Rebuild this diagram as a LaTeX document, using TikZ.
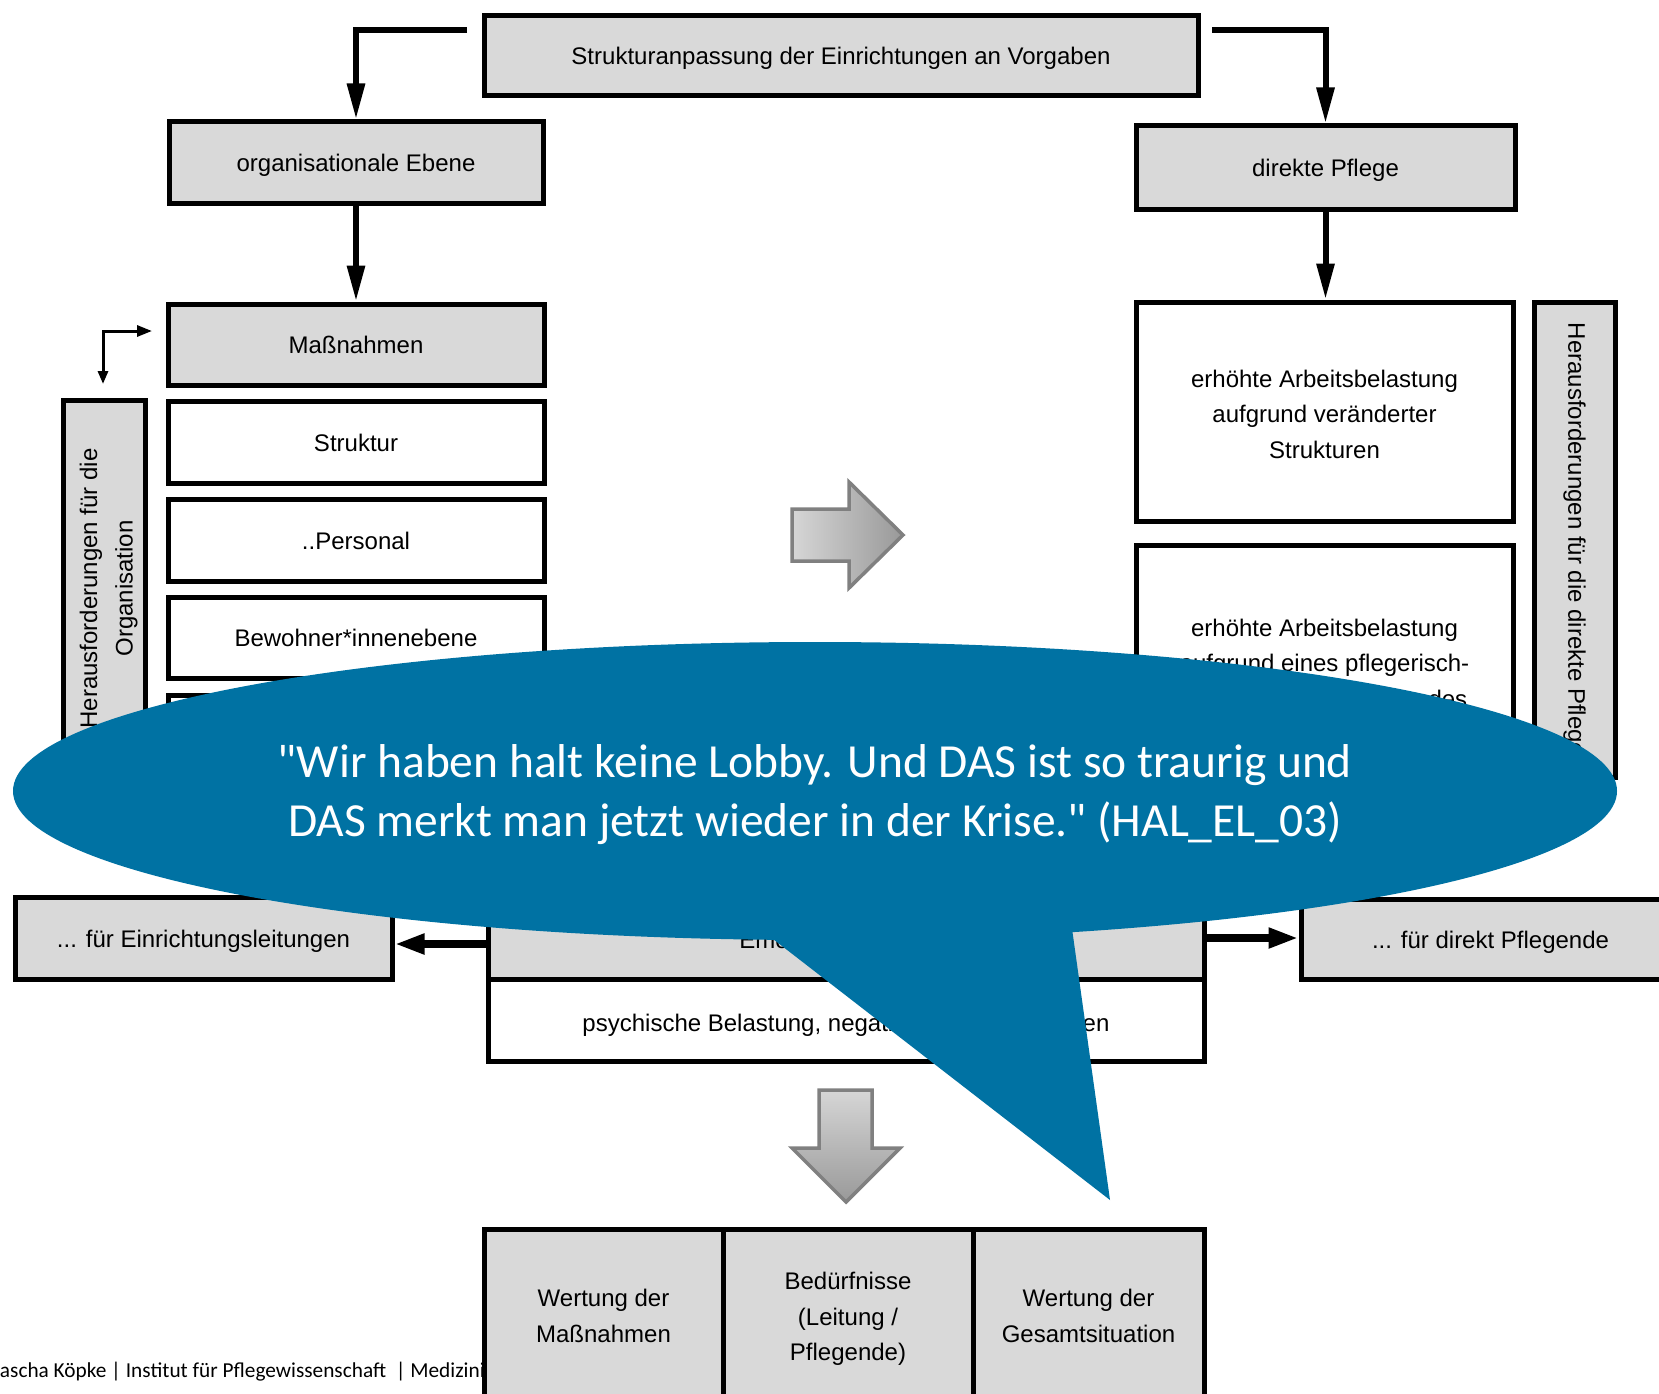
\documentclass[tikz,border=0pt]{standalone}
\usepackage{fontspec}
\setmainfont{Liberation Sans}
\newfontfamily\quotefont{Carlito}
\usetikzlibrary{arrows.meta}
\definecolor{boxgray}{HTML}{D9D9D9}
\definecolor{calloutblue}{HTML}{0072A3}
\definecolor{arrowedge}{HTML}{808080}
\definecolor{arrowlight}{HTML}{D6D6D6}
\definecolor{arrowdark}{HTML}{999999}
% invisible strut that lowers a multi-line box text
\newcommand{\lowerstrut}[1]{\rule{0pt}{#1}}

\begin{document}
\begin{tikzpicture}[x=1pt,y=-1pt,
  basebox/.style={draw=black, line width=5pt, inner sep=2pt, align=center,
    font=\fontsize{24}{35.5}\selectfont, text=black},
  gbox/.style={basebox, fill=boxgray},
  wbox/.style={basebox, fill=white},
  oneline/.style={text height=18pt, text depth=0pt},
  link/.style={line width=6pt, line join=miter, -{Triangle[length=36pt,width=17pt]}},
  sidelink/.style={line width=7.5pt, -{Triangle[length=30pt,width=19pt]}},
  bigarrow/.style={draw=arrowedge, line width=3.5pt, line join=miter},
  quotetext/.style={text=white, inner sep=0pt, anchor=base,
    font=\quotefont\fontsize{47.5}{59}\selectfont},
]
\useasboundingbox (0,0) rectangle (1659,1394);
\clip (0,0) rectangle (1659,1394);
\fill[white] (0,0) rectangle (1659,1394);

% top level
\node[gbox, oneline, minimum width=714pt, minimum height=80pt] (top) at (841,56)
  {Strukturanpassung der Einrichtungen an Vorgaben};
\node[gbox, oneline, minimum width=374pt, minimum height=81pt] (org) at (356,162.5)
  {organisationale Ebene};
\node[gbox, oneline, minimum width=379pt, minimum height=83pt] (pflege) at (1325.5,167.5)
  {direkte Pflege};

% left column: measures
\node[gbox, oneline, minimum width=376pt, minimum height=81pt] (mass) at (356,344.5) {Maßnahmen};
\node[wbox, oneline, minimum width=376pt, minimum height=82pt] (struk) at (356,442) {Struktur};
\node[wbox, oneline, minimum width=376pt, minimum height=82pt] (pers) at (356,540) {..Personal};
\node[wbox, oneline, minimum width=376pt, minimum height=81pt] (bew) at (356,637.5) {Bewohner*innenebene};
\node[wbox, minimum width=376pt, minimum height=82pt] (weitere) at (356,736) {};
\node[gbox, rotate=90, minimum width=377pt, minimum height=82pt] (orgch) at (104,588.5)
  {\lowerstrut{26.5pt}Herausforderungen für die\\Organisation};

% right column: direct care
\node[wbox, minimum width=377pt, minimum height=219pt] (rb1) at (1324.5,411.5)
  {\lowerstrut{22.8pt}erhöhte Arbeitsbelastung\\aufgrund veränderter\\Strukturen};
\node[wbox, minimum width=377pt, minimum height=236pt] (rb2) at (1324.5,663)
  {erhöhte Arbeitsbelastung\\aufgrund eines pflegerisch-\\fachlichen Mehraufwandes};
\node[gbox, rotate=-90, minimum width=475pt, minimum height=81pt] (pflch) at (1574.5,539.5)
  {Herausforderungen für die direkte Pflege};

% connectors of the upper part
\coordinate (tlstart) at (467,30);
\coordinate (trstart) at (1212,30);
\draw[link] (tlstart) -| (org.north);
\draw[link] (trstart) -| (pflege.north);
\draw[link] (org.south) -- (mass.north);
\draw[link] (pflege.south) -- (pflege.south |- rb1.north);
\coordinate (fbtip) at (152,331);
\coordinate (fbend) at (103,384);
\draw[line width=3pt, line join=miter,
  {Triangle[length=13pt,width=10pt]}-{Triangle[length=15pt,width=11pt]}]
  (fbend) |- (fbtip);

% middle arrow
\filldraw[bigarrow, left color=arrowlight, right color=arrowdark]
  (792,509) -- (849,509) -- (849,482) -- (903,535) -- (849,588) -- (849,561)
  -- (792,561) -- cycle;

% emotional level
\node[gbox, oneline, minimum width=716pt, minimum height=80pt] (emo) at (846,939) {Emotionale Aspekte};
\node[wbox, text height=22pt, text depth=0pt, minimum width=716pt, minimum height=82pt] (psy) at (846,1020)
  {psychische Belastung, negative Gefühlsregungen};
\node[gbox, oneline, minimum width=377pt, minimum height=82pt] (eil) at (203.5,938)
  {... für Einrichtungsleitungen};
\node[gbox, oneline, minimum width=379pt, minimum height=80pt] (dpf) at (1490.5,939)
  {... für direkt Pflegende};
\draw[sidelink] ([yshift=-5pt]emo.west) -- ([yshift=-5pt]emo.west -| eil.east);
\draw[sidelink] ([yshift=1pt]emo.east) -- ([yshift=1pt]emo.east -| dpf.west);

% lower arrow
\filldraw[bigarrow, top color=arrowlight, bottom color=arrowdark]
  (819,1090) -- (872,1090) -- (872,1148) -- (900,1148) -- (846,1202) -- (792,1148)
  -- (819,1148) -- cycle;

% quotation callout
\fill[calloutblue] (815,791) ellipse [x radius=802pt, y radius=149pt];
\fill[calloutblue] (658,850) -- (1061,850) -- (1110,1200) -- cycle;
\node[quotetext] (q1) at (815,777)
  {"Wir haben halt keine Lobby. Und DAS ist so traurig und};
\node[quotetext] (q2) at (815,836)
  {DAS merkt man jetzt wieder in der Krise." (HAL\_EL\_03)};

% footer line
\node[anchor=base west, inner sep=0pt, font=\quotefont\fontsize{21.3}{25}\selectfont]
  (footer) at (-10,1377)
  {Sascha Köpke | Institut für Pflegewissenschaft\ \ | Medizinische Fakultät};

% evaluation table
\node[gbox, minimum width=239pt, minimum height=172pt] (t1) at (603.5,1315)
  {\lowerstrut{19pt}Wertung der\\Maßnahmen};
\node[gbox, minimum width=250pt, minimum height=172pt] (t2) at (848,1315)
  {\lowerstrut{25.5pt}Bedürfnisse\\(Leitung /\\Pflegende)};
\node[gbox, minimum width=231pt, minimum height=172pt] (t3) at (1088.5,1315)
  {\lowerstrut{19pt}Wertung der\\Gesamtsituation};
\end{tikzpicture}
\end{document}
